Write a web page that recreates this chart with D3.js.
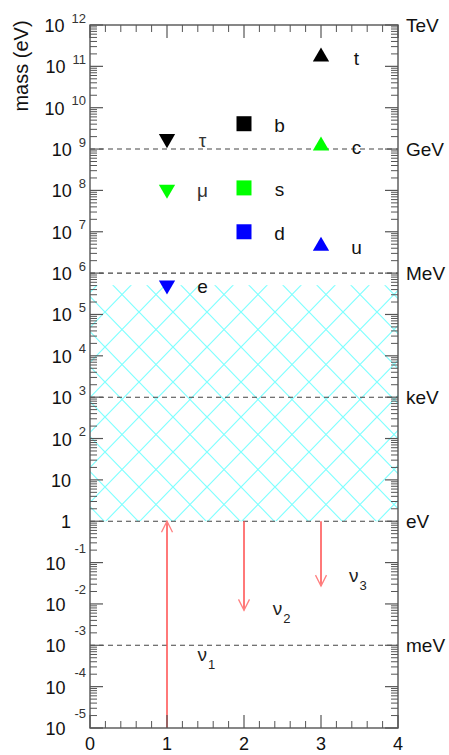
<!DOCTYPE html>
<html>
<head>
<meta charset="utf-8">
<script src="https://cdn.jsdelivr.net/npm/d3@7"></script>
<style>
  html, body { margin: 0; padding: 0; background: #fff; }
  svg { display: block; font-family: "Liberation Sans", Arial, sans-serif; }
</style>
</head>
<body>
<svg id="chart" width="449" height="755"></svg>
<script>
// ---- data ----
const particles   = ["τ", "μ", "e", "b", "s", "d", "t", "c", "u"];
const generation  = [1, 1, 1, 2, 2, 2, 3, 3, 3];
const massesEV    = [1.777e9, 1.057e8, 5.11e5, 4.1e9, 1.15e8, 1.0e7, 1.7e11, 1.2e9, 4.5e6];
const markerShape = ["down", "down", "down", "square", "square", "square", "up", "up", "up"];
const markerColor = ["#000000", "#00ff00", "#0000ff", "#000000", "#00ff00", "#0000ff", "#000000", "#00ff00", "#0000ff"];

const neutrinos      = ["1", "2", "3"];
const neutrinoX      = [1, 2, 3];
const neutrinoTop    = [1, 1, 1];
const neutrinoBottom = [1e-5, 0.007, 0.027];
const neutrinoArrow  = ["up", "down", "down"];
const neutrinoLabelX = [1.51, 2.49, 3.48];
const neutrinoLabelY = [5.5e-4, 7.1e-3, 0.045];

const hatchRange = [1, 5.11e5];

const unitValues = [1e12, 1e9, 1e6, 1e3, 1, 1e-3];
const unitLabels = ["TeV", "GeV", "MeV", "keV", "eV", "meV"];

const xTicks = [0, 1, 2, 3, 4];
const yExponents = d3.range(-5, 13);

// ---- layout ----
const svg = d3.select("#chart");
const x = d3.scaleLinear().domain([0, 4]).range([90, 398]);
const y = d3.scaleLog().domain([1e-5, 1e12]).range([728, 25]);
const axisColor = "#555";

// hatch pattern
const defs = svg.append("defs");
const pat = defs.append("pattern")
  .attr("id", "hatch").attr("patternUnits", "userSpaceOnUse")
  .attr("x", 105).attr("y", 522).attr("width", 34).attr("height", 35);
pat.append("path").attr("d", "M0,0 L34,35 M0,35 L34,0 M-1,-1 L1,1 M33,34 L35,36")
  .attr("stroke", "#80ffff").attr("stroke-width", 1.2).attr("fill", "none");

svg.append("rect")
  .attr("x", x(0)).attr("width", x(4) - x(0))
  .attr("y", y(hatchRange[1])).attr("height", y(hatchRange[0]) - y(hatchRange[1]))
  .attr("fill", "url(#hatch)");

// dashed unit lines
svg.selectAll("line.unit").data(unitValues.filter(v => v < 1e12)).enter().append("line")
  .attr("x1", x(0)).attr("x2", x(4))
  .attr("y1", d => y(d)).attr("y2", d => y(d))
  .attr("stroke", "#444").attr("stroke-width", 1.1).attr("stroke-dasharray", "5,4");

// neutrino arrows
const red = "#ff4d4d";
neutrinos.forEach((n, i) => {
  const xi = x(neutrinoX[i]);
  const yt = y(neutrinoTop[i]), yb = y(neutrinoBottom[i]);
  svg.append("line").attr("x1", xi).attr("x2", xi).attr("y1", yt).attr("y2", yb)
    .attr("stroke", red).attr("stroke-width", 1.5);
  const tipY = neutrinoArrow[i] === "up" ? yt : yb;
  const s = neutrinoArrow[i] === "up" ? 1 : -1;
  svg.append("path")
    .attr("d", `M${xi - 5.5},${tipY + s * 11} L${xi},${tipY} L${xi + 5.5},${tipY + s * 11}`)
    .attr("fill", "none").attr("stroke", "#ff8080").attr("stroke-width", 1.3);
  const t = svg.append("text")
    .attr("x", x(neutrinoLabelX[i])).attr("y", y(neutrinoLabelY[i]) + 5)
    .attr("font-size", 19).attr("fill", "#222").attr("text-anchor", "middle");
  t.append("tspan").text("ν");
  t.append("tspan").attr("dy", 8).attr("dx", 1).attr("font-size", 13).text(n);
});

// particle markers
const sym = {
  down: d3.symbol().type(d3.symbolTriangle).size(115),
  up: d3.symbol().type(d3.symbolTriangle).size(115),
  square: d3.symbol().type(d3.symbolSquare).size(225)
};
particles.forEach((p, i) => {
  const cx = x(generation[i]), cy = y(massesEV[i]);
  const shape = markerShape[i];
  let tr = `translate(${cx},${cy})`;
  if (shape === "down") tr += " rotate(180)";
  svg.append("path").attr("d", sym[shape]()).attr("transform", tr)
    .attr("fill", markerColor[i]);
  svg.append("text")
    .attr("x", x(generation[i] + 0.46)).attr("y", cy + 8)
    .attr("text-anchor", "middle").attr("font-size", 19)
    .attr("fill", (p === "τ" || p === "μ") ? "#333" : "#111")
    .text(p);
});

// frame
svg.append("rect").attr("x", x(0)).attr("y", y(1e12))
  .attr("width", x(4) - x(0)).attr("height", y(1e-5) - y(1e12))
  .attr("fill", "none").attr("stroke", axisColor).attr("stroke-width", 1.4);

// y ticks (both sides)
const yMajor = yExponents.map(e => Math.pow(10, e));
const yMinor = [];
yExponents.slice(0, -1).forEach(e => { for (let k = 2; k <= 9; k++) yMinor.push(k * Math.pow(10, e)); });
[[x(0), 1], [x(4), -1]].forEach(([x0, dir]) => {
  svg.selectAll(null).data(yMajor).enter().append("line")
    .attr("x1", x0).attr("x2", x0 + dir * 13).attr("y1", d => y(d)).attr("y2", d => y(d))
    .attr("stroke", axisColor).attr("stroke-width", 1.2);
  svg.selectAll(null).data(yMinor).enter().append("line")
    .attr("x1", x0).attr("x2", x0 + dir * 7).attr("y1", d => y(d)).attr("y2", d => y(d))
    .attr("stroke", axisColor).attr("stroke-width", 1);
});

// x ticks (bottom and top)
const xMinor = d3.range(0, 4.001, 0.2).filter(v => Math.abs(v - Math.round(v)) > 1e-6);
[[y(1e-5), -1], [y(1e12), 1]].forEach(([y0, dir]) => {
  svg.selectAll(null).data(xTicks).enter().append("line")
    .attr("x1", d => x(d)).attr("x2", d => x(d)).attr("y1", y0).attr("y2", y0 + dir * 13)
    .attr("stroke", axisColor).attr("stroke-width", 1.2);
  svg.selectAll(null).data(xMinor).enter().append("line")
    .attr("x1", d => x(d)).attr("x2", d => x(d)).attr("y1", y0).attr("y2", y0 + dir * 7)
    .attr("stroke", axisColor).attr("stroke-width", 1);
});

// x tick labels
svg.selectAll(null).data(xTicks).enter().append("text")
  .attr("x", d => x(d)).attr("y", 750).attr("text-anchor", "middle")
  .attr("font-size", 18).attr("fill", "#111").text(d => d);

// y tick labels
yExponents.forEach(e => {
  const ty = y(Math.pow(10, e));
  if (e === 0 || e === 1) {
    svg.append("text").attr("x", 71).attr("y", ty + 7).attr("text-anchor", "end")
      .attr("font-size", 18).attr("fill", "#111").text(e === 0 ? "1" : "10");
  } else {
    const t = svg.append("text").attr("x", 86).attr("y", ty + 7).attr("text-anchor", "end")
      .attr("font-size", 18).attr("fill", "#111");
    t.append("tspan").text("10");
    t.append("tspan").attr("dx", e < 0 ? 9 : 7).attr("dy", e < 0 ? -17 : -9.5)
      .attr("font-size", 13).attr("fill", "#333").text(e);
  }
});

// unit labels on right
svg.selectAll(null).data(unitValues).enter().append("text")
  .attr("x", 406).attr("y", d => y(d) + 7)
  .attr("font-size", 19).attr("fill", "#111")
  .text((d, i) => unitLabels[i]);

// y axis title
svg.append("text")
  .attr("transform", `translate(28,${66}) rotate(-90)`)
  .attr("text-anchor", "middle").attr("font-size", 20).attr("fill", "#111")
  .text("mass (eV)");
</script>
</body>
</html>
